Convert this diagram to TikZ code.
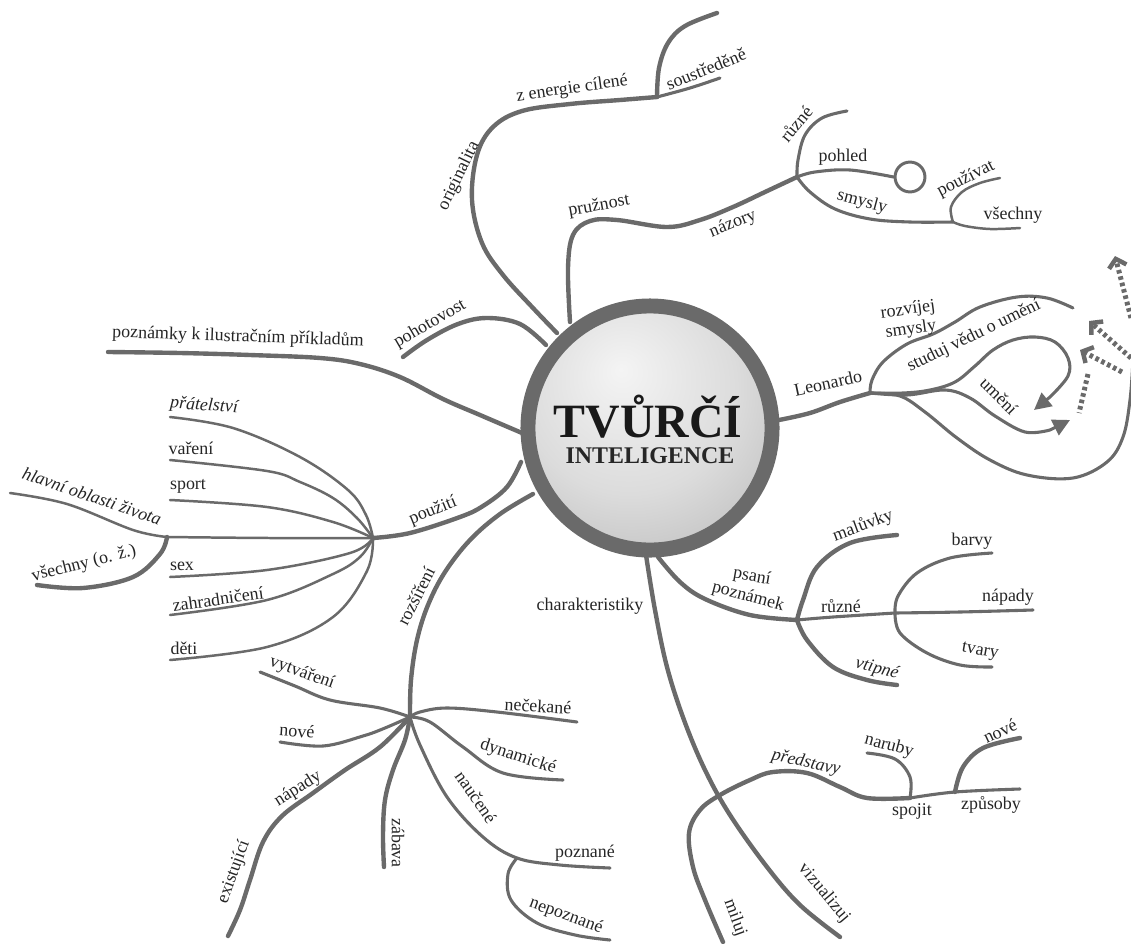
\documentclass[tikz,border=0pt]{standalone}
\usepackage{fontspec}
\setmainfont{Liberation Serif}
\usetikzlibrary{arrows.meta}
\definecolor{lc}{HTML}{6A6A6A}
\definecolor{tc}{HTML}{252525}
\definecolor{ringc}{HTML}{6A6A6A}
\definecolor{orbA}{HTML}{F4F4F4}
\definecolor{orbB}{HTML}{DCDCDC}
\definecolor{orbC}{HTML}{A8A8A8}
\pgfdeclareradialshading{orb}{\pgfpoint{-6bp}{12bp}}{color(0bp)=(orbA); color(22bp)=(orbB); color(50bp)=(orbC); color(75bp)=(orbC)}
\newcommand\lblfont{\fontsize{18}{20}\selectfont}
\tikzset{
  br/.style={draw=lc, line width=4.4pt, line cap=round, line join=round},
  sb/.style={draw=lc, line width=3.1pt, line cap=round, line join=round},
  lfb/.style={draw=lc, line width=2.5pt, line cap=round, line join=round},
  lbl/.style={font=\lblfont, text=tc, inner sep=0pt},
  ilbl/.style={lbl, font=\lblfont\itshape},
  dotline/.style={draw=lc, line width=5pt, dash pattern=on 3.6pt off 3pt},
  chev/.style={-{Straight Barb[length=8pt,width=18pt,line width=4.5pt]}},
  tri/.style={-{Triangle[length=17pt,width=17pt]}},
}
\begin{document}
\begin{tikzpicture}[x=1bp,y=-1bp]
\useasboundingbox (0,0) rectangle (1131,944);

% ---------- originalita ----------
\coordinate (orS) at (557,333);
\coordinate (orH) at (657,97);
\coordinate (orE) at (720,78);
\coordinate (orT) at (717,13);
\draw[br] plot[smooth,tension=.6] coordinates {(orS) (533,308) (503,275) (482,243) (472,200) (477,155) (493,127) (522,111) (570,104) (620,100) (orH)};
\draw[sb] plot[smooth,tension=.6] coordinates {(orH) (690,88) (orE)};
\draw[br] plot[smooth,tension=.6] coordinates {(orH) (659,68) (668,43) (685,26) (orT)};
\node[lbl, rotate=64] (lOri) at (459,176) {originalita};
\node[lbl, rotate=8] (lZe) at (572,89) {z energie cílené};
\node[lbl, rotate=22] (lSo) at (706,69) {soustředěně};

% ---------- pohotovost ----------
\coordinate (poS) at (546,345);
\coordinate (poE) at (403,357);
\draw[br] plot[smooth,tension=.6] coordinates {(poS) (520,324) (487,318) (458,324) (427,340) (poE)};
\node[lbl, rotate=30] (lPoh) at (430,324) {pohotovost};

% ---------- pruznost / nazory ----------
\coordinate (prS) at (570,322);
\coordinate (nzH) at (797,177);
\draw[br] plot[smooth,tension=.6] coordinates {(prS) (568,268) (573,235) (590,221) (617,220) (667,227) (700,220) (733,207) (765,192) (nzH)};
\node[lbl, rotate=10] (lPru) at (599,206) {pružnost};
\node[lbl, rotate=22] (lNaz) at (733,224) {názory};
\coordinate (ruE) at (847,111);
\draw[sb] plot[smooth,tension=.6] coordinates {(nzH) (798,160) (805,135) (822,118) (ruE)};
\node[lbl, rotate=50] (lRu1) at (796,124) {různé};
\node[circle, draw=lc, line width=3pt, minimum size=30, inner sep=0pt] (pcirc) at (910,177) {};
\draw[sb] plot[smooth,tension=.6] coordinates {(nzH) (815,172) (850,170) (pcirc.west)};
\node[lbl] (lPhl) at (843,157) {pohled};
\coordinate (smH) at (953,222);
\draw[sb] plot[smooth,tension=.6] coordinates {(nzH) (810,192) (835,209) (870,219) (910,222) (smH)};
\node[lbl, rotate=-15] (lSmy) at (862,202) {smysly};
\coordinate (puE) at (1000,178);
\coordinate (vsE) at (1020,228);
\draw[lfb] plot[smooth,tension=.6] coordinates {(smH) (951,207) (962,192) (980,183) (puE)};
\draw[lfb] plot[smooth,tension=.6] coordinates {(smH) (965,226) (990,229) (vsE)};
\node[lbl, rotate=27] (lPuz) at (966,179) {používat};
\node[lbl] (lVs2) at (1013,215) {všechny};

% ---------- Leonardo ----------
\coordinate (leS) at (779,420);
\coordinate (leH) at (870,393);
\draw[br] plot[smooth,tension=.6] coordinates {(leS) (810,413) (840,402) (leH)};
\node[lbl, rotate=12] (lLeo) at (828,383) {Leonardo};
\coordinate (rzE) at (1073,308);
\draw[sb] plot[smooth,tension=.6] coordinates {(leH) (872,380) (883,362) (907,344) (933,334) (955,322) (980,307) (1017,297) (1047,298) (rzE)};
\node[lbl, rotate=8] (lRzv) at (908,310) {rozvíjej};
\node[lbl, rotate=8] (lSms) at (911,330) {smysly};
\coordinate (stE) at (1050,397);
\coordinate (stT) at (1034,410);
\draw[sb] plot[smooth,tension=.6] coordinates {(leH) (903,393) (930,390) (955,382) (975,366) (993,350) (1013,340) (1035,337) (1055,342) (1068,358) (1068,376) (stE)};
\draw[draw=lc, line width=3pt, tri, fill=lc] (stE) -- (stT);
\node[lbl, rotate=26] (lStu) at (974,336) {studuj vědu o umění};
\coordinate (umE) at (1050,430);
\coordinate (umT) at (1070,420);
\draw[sb] plot[smooth,tension=.6] coordinates {(leH) (907,395) (945,390) (970,398) (995,416) (1025,432) (umE)};
\draw[draw=lc, line width=3pt, tri, fill=lc] (umE) -- (umT);
\node[lbl, rotate=-45] (lUme) at (999,396) {umění};
\coordinate (bgE) at (1133,360);
\draw[sb] plot[smooth,tension=.6] coordinates {(leH) (900,396) (925,412) (957,438) (990,460) (1027,475) (1073,478) (1107,462) (1123,437) (1130,400) (bgE)};
% dotted arrows
\coordinate (d1a) at (1131,318);
\coordinate (d1b) at (1115,256);
\draw[dotline, chev] (d1a) -- (d1b);
\coordinate (d2a) at (1131,358);
\coordinate (d2b) at (1089,321);
\draw[dotline, chev] (d2a) -- (d2b);
\coordinate (d3a) at (1122,372);
\coordinate (d3b) at (1080,350);
\draw[dotline, chev] (d3a) -- (d3b);
\coordinate (d4a) at (1088,374);
\coordinate (d4b) at (1079,413);
\draw[dotline] (d4a) -- (d4b);

% ---------- poznamky k ilustracnim prikladum ----------
\coordinate (pkS) at (522,433);
\coordinate (pkE) at (108,352);
\draw[br] plot[smooth,tension=.6] coordinates {(pkS) (480,415) (443,399) (400,377) (360,364) (320,358) (250,355) (180,353) (pkE)};
\node[lbl, rotate=-2] (lPkl) at (238,337) {poznámky k ilustračním příkladům};

% ---------- pouziti ----------
\coordinate (ptS) at (521,462);
\coordinate (fH) at (373,538);
\draw[br] plot[smooth,tension=.6] coordinates {(ptS) (507,487) (483,506) (460,517) (410,533) (fH)};
\node[lbl, rotate=22] (lPou) at (433,511) {použití};
\coordinate (fa1) at (170,417);
\coordinate (fa2) at (170,460);
\coordinate (fa3) at (170,500);
\coordinate (fa4) at (167,537);
\coordinate (fa5) at (170,577);
\coordinate (fa6) at (170,615);
\coordinate (fa7) at (170,660);
\draw[lfb] plot[smooth,tension=.6] coordinates {(fH) (366,515) (348,490) (300,457) (233,428) (fa1)};
\draw[lfb] plot[smooth,tension=.6] coordinates {(fH) (357,518) (333,498) (300,482) (267,471) (fa2)};
\draw[lfb] plot[smooth,tension=.6] coordinates {(fH) (333,522) (267,507) (fa3)};
\draw[lfb] plot[smooth,tension=.6] coordinates {(fH) (270,538) (fa4)};
\draw[lfb] plot[smooth,tension=.6] coordinates {(fH) (350,553) (267,570) (fa5)};
\draw[lfb] plot[smooth,tension=.6] coordinates {(fH) (360,557) (333,574) (267,600) (fa6)};
\draw[lfb] plot[smooth,tension=.6] coordinates {(fH) (367,571) (333,617) (267,647) (fa7)};
\node[ilbl, rotate=-4] (lPra) at (204,406) {přátelství};
\node[lbl] (lVar) at (191,448) {vaření};
\node[lbl] (lSpt) at (188,486) {sport};
\node[lbl] (lSex) at (182,566) {sex};
\node[lbl, rotate=8] (lZah) at (218,599) {zahradničení};
\node[lbl] (lDet) at (184,648) {děti};
\coordinate (hlE) at (10,493);
\coordinate (veE) at (37,585);
\draw[lfb] plot[smooth,tension=.6] coordinates {(fa4) (133,530) (67,504) (hlE)};
\draw[br] plot[smooth,tension=.6] coordinates {(fa4) (160,554) (133,577) (83,588) (veE)};
\node[ilbl, rotate=-19] (lHla) at (92,496) {hlavní oblasti života};
\node[lbl, rotate=14] (lVse) at (84,564) {všechny (o. ž.)};

% ---------- rozsireni ----------
\coordinate (rsS) at (533,494);
\coordinate (rsH) at (410,717);
\draw[br] plot[smooth,tension=.6] coordinates {(rsS) (500,514) (470,540) (445,572) (428,605) (417,640) (411,680) (rsH)};
\node[lbl, rotate=63] (lRoz) at (416,596) {rozšíření};
\coordinate (vyE) at (260,672);
\coordinate (noE) at (280,742);
\coordinate (naE) at (228,936);
\coordinate (zaE) at (384,867);
\coordinate (neE) at (577,722);
\coordinate (dyE) at (563,780);
\coordinate (nuH) at (517,858);
\coordinate (pzE) at (610,868);
\coordinate (npE) at (610,940);
\draw[sb] plot[smooth,tension=.6] coordinates {(rsH) (380,708) (330,700) (295,686) (vyE)};
\draw[sb] plot[smooth,tension=.6] coordinates {(rsH) (385,728) (363,736) (323,746) (noE)};
\draw[br] plot[smooth,tension=.6] coordinates {(rsH) (380,747) (345,770) (313,793) (282,816) (263,842) (250,880) (240,910) (naE)};
\draw[br] plot[smooth,tension=.6] coordinates {(rsH) (405,740) (393,770) (385,800) (383,835) (zaE)};
\draw[sb] plot[smooth,tension=.6] coordinates {(rsH) (420,712) (447,708) (497,712) (neE)};
\draw[sb] plot[smooth,tension=.6] coordinates {(rsH) (430,722) (463,747) (503,773) (dyE)};
\draw[sb] plot[smooth,tension=.6] coordinates {(rsH) (420,745) (447,797) (483,837) (nuH) (560,865) (pzE)};
\draw[sb] plot[smooth,tension=.6] coordinates {(nuH) (508,874) (511,900) (537,923) (575,935) (npE)};
\node[lbl, rotate=-20] (lVyt) at (302,673) {vytváření};
\node[lbl, rotate=-4] (lNov) at (297,731) {nové};
\node[lbl, rotate=32] (lNap) at (298,789) {nápady};
\node[lbl, rotate=70] (lExi) at (234,872) {existující};
\node[lbl, rotate=-90] (lZab) at (398,843) {zábava};
\node[lbl, rotate=-3] (lNec) at (538,706) {nečekané};
\node[lbl, rotate=-18] (lDyn) at (518,757) {dynamické};
\node[lbl, rotate=-55] (lNau) at (476,797) {naučené};
\node[lbl] (lPzn) at (585,853) {poznané};
\node[lbl, rotate=-20] (lNep) at (566,916) {nepoznané};

% ---------- charakteristiky ----------
\coordinate (chS) at (646,555);
\coordinate (chE) at (840,937);
\draw[br] plot[smooth,tension=.6] coordinates {(chS) (655,610) (667,667) (684,720) (705,770) (730,815) (767,867) (800,905) (chE)};
\node[lbl] (lCha) at (590,606) {charakteristiky};
\node[lbl, rotate=-50] (lViz) at (824,893) {vizualizuj};
\coordinate (miE) at (723,942);
\coordinate (spH) at (910,798);
\coordinate (zpH) at (955,792);
\coordinate (zpE) at (1020,789);
\draw[br] plot[smooth,tension=.6] coordinates {(miE) (705,900) (693,867) (689,833) (700,810) (720,795) (750,780) (773,772) (807,773) (840,787) (867,798) (spH)};
\draw[sb] plot[smooth,tension=.6] coordinates {(spH) (zpH) (zpE)};
\coordinate (nrE) at (867,753);
\coordinate (nvE) at (1020,738);
\draw[sb] plot[smooth,tension=.6] coordinates {(spH) (910,777) (895,759) (nrE)};
\draw[br] plot[smooth,tension=.6] coordinates {(zpH) (963,767) (983,748) (nvE)};
\node[ilbl, rotate=-12] (lPre) at (806,763) {představy};
\node[lbl, rotate=-15] (lNar) at (889,746) {naruby};
\node[lbl, rotate=25] (lNv2) at (1000,731) {nové};
\node[lbl] (lSpj) at (912,811) {spojit};
\node[lbl] (lZpu) at (991,805) {způsoby};
\node[lbl, rotate=-70] (lMil) at (735,918) {miluj};

% ---------- psani poznamek ----------
\coordinate (psS) at (658,557);
\coordinate (psH) at (797,620);
\draw[br] plot[smooth,tension=.6] coordinates {(psS) (680,582) (705,599) (750,615) (psH)};
\node[lbl, rotate=-10] (lPsa) at (752,577) {psaní};
\node[lbl, rotate=-15] (lPsb) at (748,597) {poznámek};
\coordinate (maE) at (897,535);
\coordinate (vtE) at (897,685);
\coordinate (rzH) at (895,613);
\draw[br] plot[smooth,tension=.6] coordinates {(psH) (803,600) (817,567) (850,543) (maE)};
\draw[br] plot[smooth,tension=.6] coordinates {(psH) (807,640) (833,667) (867,680) (vtE)};
\draw[sb] plot[smooth,tension=.6] coordinates {(psH) (833,617) (rzH)};
\node[lbl, rotate=20] (lMal) at (863,526) {malůvky};
\node[lbl] (lRu2) at (841,606) {různé};
\node[ilbl, rotate=-15] (lVti) at (877,669) {vtipné};
\coordinate (baE) at (992,553);
\coordinate (n2E) at (1033,610);
\coordinate (tvE) at (992,667);
\draw[sb] plot[smooth,tension=.6] coordinates {(rzH) (898,596) (917,573) (950,558) (baE)};
\draw[sb] plot[smooth,tension=.6] coordinates {(rzH) (960,612) (n2E)};
\draw[sb] plot[smooth,tension=.6] coordinates {(rzH) (900,633) (927,653) (960,665) (tvE)};
\node[lbl] (lBar) at (972,541) {barvy};
\node[lbl] (lNp2) at (1008,597) {nápady};
\node[lbl, rotate=-10] (lTva) at (980,652) {tvary};

% ---------- centre ----------
\node[circle, minimum size=245, draw=ringc, line width=15pt, shading=orb, inner sep=0pt] (centre) at (650,428) {};
\node[anchor=base, text=black!90, font=\fontsize{48}{50}\selectfont\bfseries, inner sep=0pt] (tTit) at (648,437) {TVŮRČÍ};
\node[anchor=base, text=black!85, font=\fontsize{24}{26}\selectfont\bfseries, inner sep=0pt] (tSub) at (650,463) {INTELIGENCE};
\end{tikzpicture}
\end{document}
